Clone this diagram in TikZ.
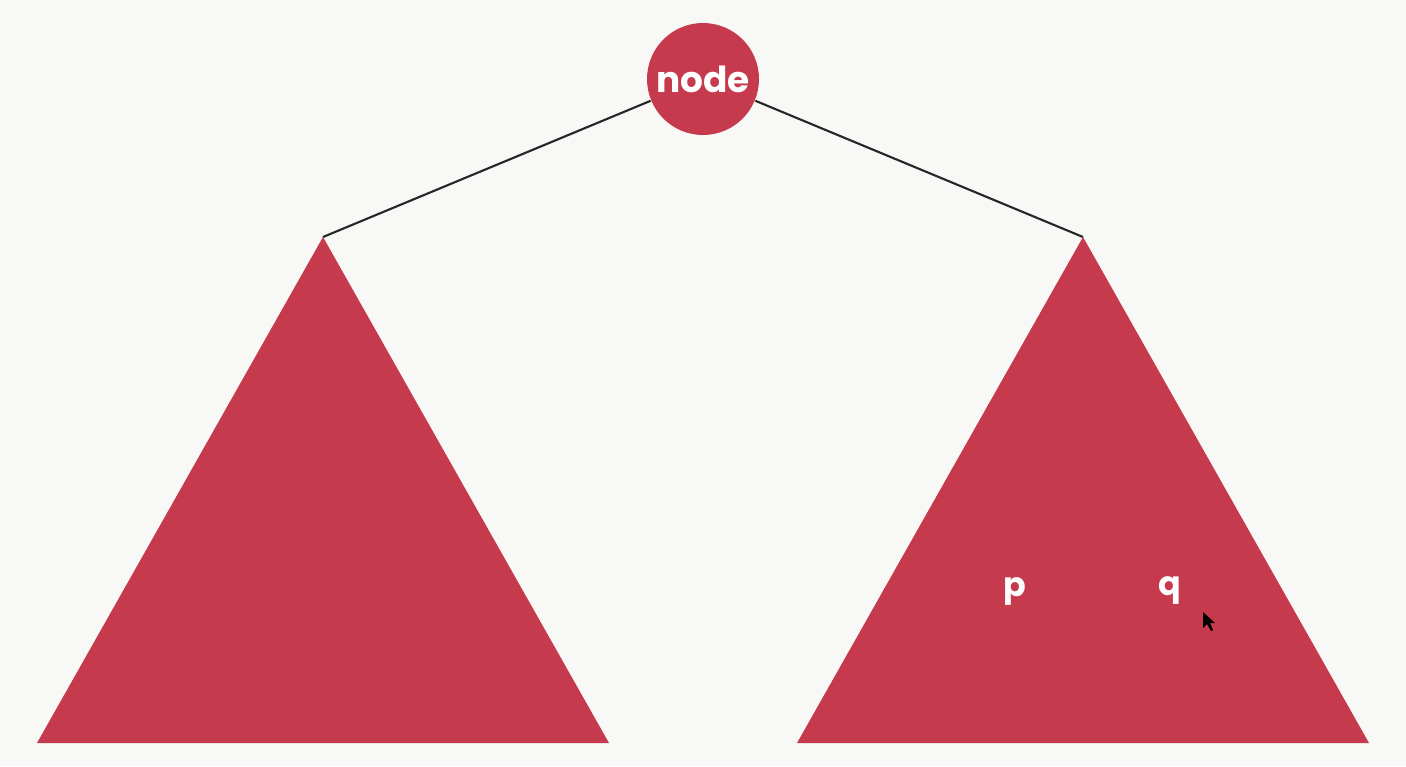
\documentclass[tikz,border=0pt]{standalone}
\usepackage{fontspec}
\setmainfont{Poppins}
\usetikzlibrary{calc}
\definecolor{treered}{HTML}{C63A4E}
\definecolor{paper}{HTML}{F8F8F6}
\tikzset{
  subtree/.style={fill=treered, draw=none},
  edge/.style={line width=0.6pt, color=black!85},
  keylabel/.style={text=white, font=\bfseries\fontsize{9.5}{11}\selectfont, inner sep=0pt}
}

\begin{document}
\begin{tikzpicture}[x=0.01cm, y=-0.01cm]
			%%%%% START %%%%%
			
			\fill[paper] (0, 0) rectangle (1406, 766);
			\useasboundingbox (0, 0) rectangle (1406, 766);
			
			\coordinate (lefttop) at (323, 237);
			\coordinate (righttop) at (1083, 237);
			
			\fill[subtree] (lefttop) -- (37, 743) -- (609, 743) -- cycle;
			\fill[subtree] (righttop) -- (797, 743) -- (1369, 743) -- cycle;
			
			\node[circle, fill=treered, minimum size=112*0.01cm, inner sep=0pt, text=white, font=\bfseries\fontsize{10.2}{12}\selectfont] (root) at (703, 79) {node};
			
			\draw[edge] (root) -- (lefttop);
			\draw[edge] (root) -- (righttop);
			
			\node[keylabel] (p) at (1015, 591) {p};
			\node[keylabel] (q) at (1170, 591) {q};
			
			% pointer
			\fill[black] (1203, 612) -- (1203, 628) -- (1207, 624) -- (1211, 631) -- (1213, 630) -- (1210, 623) -- (1215, 623) -- cycle;
			
			%%%%% END %%%%%
\end{tikzpicture}
\end{document}
